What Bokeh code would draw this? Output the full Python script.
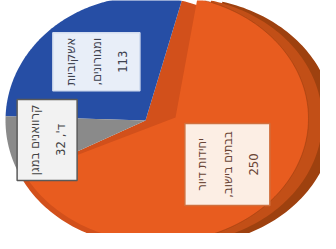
import numpy as np
from bokeh.plotting import figure
from bokeh.models import Range1d, ColumnDataSource
from bokeh.embed import file_html
from bokeh.resources import INLINE
from bokeh.core.properties import value

# ---- data (listed counter-clockwise from the start angle) ----
name_lines = [["אשקוביות", "ומגורונים"], ["קרוואנים במגן", "ד'"], ["יחידות דיור", "בבתים בישוב"]]
values = [113, 32, 250]
value_on_new_line = [True, False, True]

# ---- styles ----
top_colors = ["#264EA5", "#8A8A8A", "#E85C1F"]
box_fill = ["#E8EEF8", "#F2F2F2", "#FCEEE4"]
box_line = ["#D3DDF0", "#5A5A5A", "#D0703E"]
txt_col = ["#3E4250", "#454545", "#6A4536"]
label_r = [0.59, 0.72, 0.59]
box_w = [87, 60, 85]
box_h = [58, 81, 82]
line_gap = 26.0

W, H = 320, 233
p = figure(width=W, height=H, output_backend="svg", toolbar_location=None,
           x_range=Range1d(0, W), y_range=Range1d(H, 0), min_border=0)
p.axis.visible = False
p.grid.visible = False
p.outline_line_color = None
p.background_fill_color = "white"
p.border_fill_color = "white"

# base ellipse (flat slices), raised face of big slice, and its side
cx, cy, a, b = 145.0, 120.0, 140.0, 124.0
fax, fay = 175.0, 117.0               # apex of raised face
fx, fy, fa, fb = 158.0, 118.0, 150.0, 124.0
side_dx, side_dy = 25.0, 3.0

start = np.deg2rad(75.0)
frac = np.array(values, dtype=float) / np.sum(values)
edges = start + 2 * np.pi * np.concatenate([[0], np.cumsum(frac)])


def arc(xc, yc, ra, rb, t0, t1, n=160):
    t = np.linspace(t0, t1, n)
    return xc + ra * np.cos(t), yc - rb * np.sin(t)


def wedge(apx, apy, xc, yc, ra, rb, t0, t1):
    xs, ys = arc(xc, yc, ra, rb, t0, t1)
    return list(np.concatenate([[apx], xs])), list(np.concatenate([[apy], ys]))


big = int(np.argmax(values))
t0, t1 = edges[big], edges[big + 1]

# side of the raised slice, two shading steps
for k, col in [(1.0, "#9E410F"), (0.55, "#C24F17")]:
    xs, ys = wedge(fax + k * side_dx, fay + k * side_dy, fx + k * side_dx, fy + k * side_dy,
                   fa, fb, t0, t1)
    p.patch(xs, ys, fill_color=col, line_color=None)

# base of the big slice (visible band)
xs, ys = wedge(cx, cy, cx, cy, a, b, t0, t1)
p.patch(xs, ys, fill_color="#D2501B", line_color=None)

# flat slices
for i in range(len(values)):
    if i == big:
        continue
    xs, ys = wedge(cx, cy, cx, cy, a, b, edges[i], edges[i + 1])
    p.patch(xs, ys, fill_color=top_colors[i], line_color=None)

# raised face
xs, ys = wedge(fax, fay, fx, fy, fa, fb, t0, t1)
p.patch(xs, ys, fill_color=top_colors[big], line_color=None)
ax_, ay_ = arc(fx, fy, fa, fb, t0 + 0.9, t1 - 0.05)
p.line(list(ax_), list(ay_), line_color="#8E3A10", line_alpha=0.45, line_width=1)

# labels
RLM = "\u200f"
bx, by = [], []
tx, ty, tt, tc = [], [], [], []
for i, (lines, v) in enumerate(zip(name_lines, values)):
    body = [ln + RLM for ln in lines[:-1]]
    if value_on_new_line[i]:
        body.append(lines[-1] + "," + RLM)
        body.append(str(v))
    else:
        body.append(lines[-1] + ", " + str(v))
    mid = 0.5 * (edges[i] + edges[i + 1])
    if i == big:
        ox, oy, ra, rb = fx, fy, fa, fb
    else:
        ox, oy, ra, rb = cx, cy, a, b
    lx = ox + label_r[i] * ra * np.cos(mid)
    ly = oy - label_r[i] * rb * np.sin(mid)
    bx.append(lx)
    by.append(ly)
    n = len(body)
    for k, s in enumerate(body):
        tx.append(lx + (k - (n - 1) / 2.0) * line_gap)
        ty.append(ly)
        tt.append(s)
        tc.append(txt_col[i])

boxes = ColumnDataSource(dict(x=bx, y=by, w=box_w, h=box_h, f=box_fill, l=box_line))
p.rect(x="x", y="y", width="w", height="h", source=boxes, fill_color="f",
       line_color="l", line_width=1.5)

lab = ColumnDataSource(dict(x=tx, y=ty, text=tt, c=tc))
p.text(x="x", y="y", text="text", source=lab, angle=np.pi / 2,
       text_align="center", text_baseline="middle",
       text_font=value("DejaVu Sans Condensed"), text_font_size="13px",
       text_color="c")

open("out.html", "w").write(file_html(p, INLINE))
